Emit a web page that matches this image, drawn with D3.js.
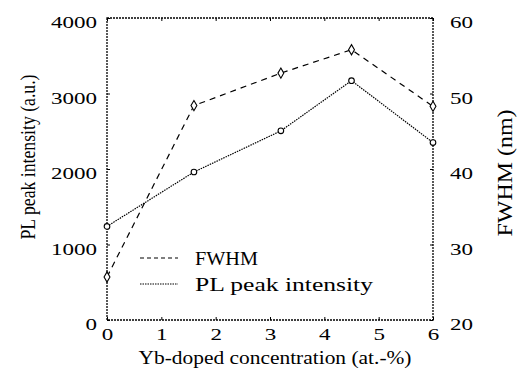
<!DOCTYPE html>
<html>
<head>
<meta charset="utf-8">
<script src="https://cdn.jsdelivr.net/npm/d3@7"></script>
<style>
  body { margin: 0; background: #fff; }
</style>
</head>
<body>
<div id="chart-area"></div>
<script>
// values
const concentration = [0, 1.6, 3.2, 4.5, 6];
const fwhm = [25.7, 48.4, 52.7, 55.8, 48.3];           // nm, right axis
const plIntensity = [1240, 1960, 2505, 3170, 2350];    // a.u., left axis

const xTicks = [0, 1, 2, 3, 4, 5, 6];
const leftTicks = [0, 1000, 2000, 3000, 4000];
const rightTicks = [20, 30, 40, 50, 60];

const serif = "'Liberation Serif', 'Times New Roman', Times, serif";

const margin = {left: 107, right: 86, top: 18, bottom: 57};
const width = 519 - margin.left - margin.right;
const height = 377 - margin.top - margin.bottom;

const svg = d3.select('#chart-area')
    .append('svg')
    .attr('width', 519)
    .attr('height', 377)
    .attr('font-family', serif);

svg.append('rect')
    .attr('width', 519)
    .attr('height', 377)
    .attr('fill', '#fff');

const g = svg.append('g')
    .attr('transform', `translate(${margin.left}, ${margin.top})`);

const x = d3.scaleLinear().domain([0, 6]).range([0, width]);
const yLeft = d3.scaleLinear().domain([0, 4000]).range([height, 0]);
const yRight = d3.scaleLinear().domain([20, 60]).range([height, 0]);

// the scan is wider than Times, so stretch the digits a bit
const fitDigits = (sel) => {
    sel.attr('font-family', serif).attr('font-size', 17);
    sel.selectAll('text')
        .attr('fill', '#000')
        .attr('dy', 0)
        .attr('textLength', d => String(d).length * 11.5)
        .attr('lengthAdjust', 'spacingAndGlyphs');
};

// axes: inward ticks, MATLAB style
const bottomAxis = g.append('g')
    .attr('transform', `translate(0, ${height})`)
    .call(d3.axisBottom(x).tickValues(xTicks).tickFormat(d => d).tickSize(-3));
fitDigits(bottomAxis);
bottomAxis.selectAll('text').attr('y', 20);

g.append('g')
    .call(d3.axisTop(x).tickValues(xTicks).tickSize(-3).tickFormat(''));

const leftAxis = g.append('g')
    .call(d3.axisLeft(yLeft).tickValues(leftTicks).tickFormat(d => d).tickSize(-3).tickPadding(10));
fitDigits(leftAxis);
leftAxis.selectAll('text').attr('y', 9.5);

const rightAxis = g.append('g')
    .attr('transform', `translate(${width}, 0)`)
    .call(d3.axisRight(yRight).tickValues(rightTicks).tickFormat(d => d).tickSize(-3).tickPadding(17));
fitDigits(rightAxis);
rightAxis.selectAll('text').attr('y', 9.5);

g.selectAll('.domain').remove();
g.selectAll('.tick line').attr('stroke', '#000').attr('stroke-width', 1);

// frame
g.append('rect')
    .attr('width', width)
    .attr('height', height)
    .attr('fill', 'none')
    .attr('stroke', '#000')
    .attr('stroke-width', 1.3)
    .attr('stroke-dasharray', '2,1');

const fwhmData = concentration.map((c, i) => ({c: c, v: fwhm[i]}));
const plData = concentration.map((c, i) => ({c: c, v: plIntensity[i]}));

// FWHM, dashed with diamonds
g.append('path')
    .datum(fwhmData)
    .attr('fill', 'none')
    .attr('stroke', '#000')
    .attr('stroke-width', 1.2)
    .attr('stroke-dasharray', '6,5')
    .attr('d', d3.line().x(d => x(d.c)).y(d => yRight(d.v)));

g.selectAll('.fwhm-pt')
    .data(fwhmData)
    .enter()
    .append('path')
    .attr('class', 'fwhm-pt')
    .attr('transform', d => `translate(${x(d.c)}, ${yRight(d.v)})`)
    .attr('d', d3.symbol(d3.symbolDiamond, 30)())
    .attr('fill', '#fff')
    .attr('stroke', '#000')
    .attr('stroke-width', 1.1);

// PL intensity, fine dots with circles
g.append('path')
    .datum(plData)
    .attr('fill', 'none')
    .attr('stroke', '#000')
    .attr('stroke-width', 1.2)
    .attr('stroke-dasharray', '1.5,1')
    .attr('d', d3.line().x(d => x(d.c)).y(d => yLeft(d.v)));

g.selectAll('.pl-pt')
    .data(plData)
    .enter()
    .append('circle')
    .attr('class', 'pl-pt')
    .attr('cx', d => x(d.c))
    .attr('cy', d => yLeft(d.v))
    .attr('r', 2.8)
    .attr('fill', '#fff')
    .attr('stroke', '#000')
    .attr('stroke-width', 1.1);

// legend
const legend = [
    {label: 'FWHM', dash: '4,3', len: 63},
    {label: 'PL peak intensity', dash: '1.5,1', len: 178}
];
legend.forEach((d, i) => {
    const ly = 258 + i * 26;
    svg.append('line')
        .attr('x1', 140).attr('x2', 178)
        .attr('y1', ly).attr('y2', ly)
        .attr('stroke', '#000')
        .attr('stroke-width', 1.2)
        .attr('stroke-dasharray', d.dash);
    svg.append('text')
        .attr('x', 195)
        .attr('y', ly + 7)
        .attr('font-size', 19)
        .attr('textLength', d.len)
        .attr('lengthAdjust', 'spacingAndGlyphs')
        .text(d.label);
});

// axis titles
svg.append('text')
    .attr('x', 275)
    .attr('y', 364)
    .attr('font-size', 19)
    .attr('text-anchor', 'middle')
    .attr('textLength', 273)
    .attr('lengthAdjust', 'spacingAndGlyphs')
    .text('Yb-doped concentration (at.-%)');

svg.append('text')
    .attr('transform', 'translate(35, 157) rotate(-90)')
    .attr('font-size', 20)
    .attr('text-anchor', 'middle')
    .attr('textLength', 165)
    .attr('lengthAdjust', 'spacingAndGlyphs')
    .text('PL peak intensity (a.u.)');

svg.append('text')
    .attr('transform', 'translate(512, 173) rotate(-90)')
    .attr('font-size', 20)
    .attr('text-anchor', 'middle')
    .attr('textLength', 127)
    .attr('lengthAdjust', 'spacingAndGlyphs')
    .text('FWHM (nm)');
</script>
</body>
</html>
